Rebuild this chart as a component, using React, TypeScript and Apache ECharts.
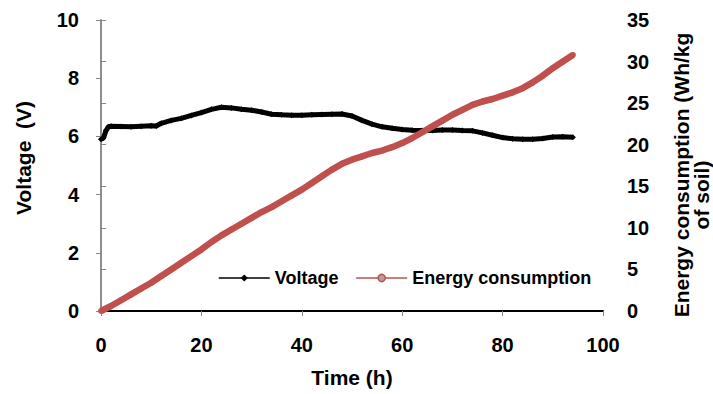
import React, { useEffect, useRef } from "react";
import * as echarts from "echarts";

const xTicks = [0, 20, 40, 60, 80, 100];
const voltageTicksMax = 10;
const energyTicksMax = 35;

const voltageTime = [0, 0.5, 1, 1.5, 2, 4, 6, 8, 10, 11, 12, 14, 16, 18, 20, 22, 24, 26, 28, 30, 32, 34, 36, 38, 40, 42, 44, 46, 48, 50, 52, 54, 56, 58, 60, 62, 64, 66, 68, 70, 72, 74, 76, 78, 80, 82, 84, 86, 88, 90, 92, 94];
const voltageValues = [5.9, 5.95, 6.2, 6.33, 6.35, 6.34, 6.33, 6.35, 6.37, 6.36, 6.45, 6.55, 6.62, 6.72, 6.82, 6.93, 7.0, 6.98, 6.93, 6.9, 6.84, 6.76, 6.74, 6.73, 6.73, 6.74, 6.75, 6.76, 6.77, 6.7, 6.55, 6.42, 6.33, 6.28, 6.24, 6.21, 6.2, 6.2, 6.22, 6.22, 6.2, 6.19, 6.12, 6.04, 5.96, 5.92, 5.9, 5.9, 5.93, 5.98, 5.99, 5.97];

const energyTime = [0, 2, 4, 6, 8, 10, 12, 14, 16, 18, 20, 22, 24, 26, 28, 30, 32, 34, 36, 38, 40, 42, 44, 46, 48, 50, 52, 54, 56, 58, 60, 62, 64, 66, 68, 70, 72, 74, 76, 78, 80, 82, 84, 86, 88, 90, 92, 94];
const energyValues = [0, 0.6, 1.3, 2.0, 2.7, 3.4, 4.2, 5.0, 5.8, 6.6, 7.4, 8.3, 9.1, 9.8, 10.5, 11.2, 11.9, 12.5, 13.2, 13.9, 14.6, 15.4, 16.2, 17.0, 17.7, 18.2, 18.6, 19.0, 19.3, 19.7, 20.2, 20.8, 21.5, 22.2, 22.9, 23.6, 24.2, 24.8, 25.2, 25.5, 25.9, 26.3, 26.8, 27.5, 28.3, 29.2, 30.0, 30.8];

const FONT = "'Liberation Sans', Arial, sans-serif";
const RED = "#C0504D";
const AXIS_GREY = "#868686";

export default function App() {
  const ref = useRef<HTMLDivElement>(null);
  useEffect(() => {
    if (!ref.current) return;
    const chart = echarts.init(ref.current, null, { renderer: "svg" });
    const vData = voltageTime.map((t, i) => [t, voltageValues[i]]);
    const eData = energyTime.map((t, i) => [t, energyValues[i]]);
    const tickLabel = { fontFamily: FONT, fontWeight: "bold" as const, fontSize: 20, color: "#000" };
    chart.setOption({
      animation: false,
      grid: { left: 101, right: 110, top: 20, bottom: 83, containLabel: false },
      legend: {
        left: 213,
        top: 264,
        itemWidth: 51,
        itemHeight: 9,
        itemGap: 17,
        textStyle: { fontFamily: FONT, fontWeight: "bold", fontSize: 18, color: "#000" },
        lineStyle: { width: 1.5 },
        data: [
          { name: "Voltage", itemStyle: { color: "#000" } },
          { name: "Energy consumption", itemStyle: { color: "#b0a0a0", borderColor: RED, borderWidth: 1.5 } },
        ],
      },
      xAxis: [
        {
          type: "value",
          min: 0,
          max: 100,
          interval: 20,
          name: "Time (h)",
          nameLocation: "middle",
          nameGap: 56,
          nameTextStyle: { fontFamily: FONT, fontWeight: "bold", fontSize: 21, color: "#000" },
          axisLine: { lineStyle: { color: AXIS_GREY, width: 1.5 } },
          axisTick: { show: true, length: 5, lineStyle: { color: AXIS_GREY } },
          axisLabel: { ...tickLabel, margin: 24, formatter: (v: number) => (xTicks.includes(v) ? String(v) : "") },
          splitLine: { show: false },
        },
        {
          type: "value",
          min: 0,
          max: 100,
          position: "top",
          axisLine: { show: true, lineStyle: { color: "#000", width: 2 } },
          axisTick: { show: false },
          axisLabel: { show: false },
          splitLine: { show: false },
        },
      ],
      yAxis: [
        {
          type: "value",
          min: 0,
          max: voltageTicksMax,
          interval: 2,
          axisLine: { show: true, lineStyle: { color: AXIS_GREY, width: 1.5 } },
          axisTick: { show: true, length: 5, lineStyle: { color: AXIS_GREY } },
          axisLabel: { ...tickLabel, margin: 22 },
          splitLine: { show: false },
        },
        {
          type: "value",
          min: 0,
          max: energyTicksMax,
          interval: 5,
          position: "right",
          axisLine: { show: true, lineStyle: { color: AXIS_GREY, width: 1.5 } },
          axisTick: { show: true, length: 5, lineStyle: { color: AXIS_GREY } },
          axisLabel: { ...tickLabel, margin: 24 },
          splitLine: { show: false },
        },
      ],
      graphic: [
        {
          type: "text",
          x: 23,
          y: 158,
          rotation: Math.PI / 2,
          style: {
            text: "Voltage  (V)",
            textAlign: "center",
            textVerticalAlign: "middle",
            font: `bold 21px ${FONT}`,
            fill: "#000",
          },
        },
        {
          type: "text",
          x: 681,
          y: 175,
          rotation: Math.PI / 2,
          style: {
            text: "Energy consumption (Wh/kg",
            textAlign: "center",
            textVerticalAlign: "middle",
            font: `bold 21px ${FONT}`,
            fill: "#000",
          },
        },
        {
          type: "text",
          x: 701,
          y: 195,
          rotation: Math.PI / 2,
          style: {
            text: "of soil)",
            textAlign: "center",
            textVerticalAlign: "middle",
            font: `bold 21px ${FONT}`,
            fill: "#000",
          },
        },
      ],
      series: [
        {
          name: "Voltage",
          type: "line",
          xAxisIndex: 0,
          yAxisIndex: 0,
          data: vData,
          symbol: "diamond",
          symbolSize: 6,
          showSymbol: true,
          itemStyle: { color: "#000" },
          lineStyle: { color: "#000", width: 5 },
          z: 2,
        },
        {
          name: "Energy consumption",
          type: "line",
          xAxisIndex: 0,
          yAxisIndex: 1,
          data: eData,
          symbol: "circle",
          symbolSize: 6,
          showSymbol: true,
          itemStyle: { color: RED },
          lineStyle: { color: RED, width: 6.5 },
          z: 3,
        },
      ],
    });
    return () => chart.dispose();
  }, []);
  return <div ref={ref} style={{ width: 713, height: 394, position: "absolute", left: 0, top: 0 }} />;
}
